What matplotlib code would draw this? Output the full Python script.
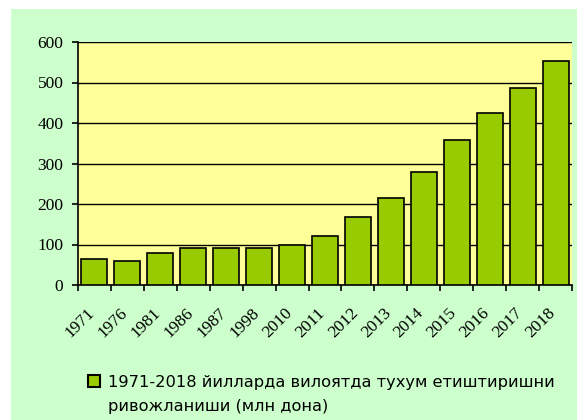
import matplotlib
matplotlib.use("Agg")
import matplotlib.pyplot as plt
from matplotlib.patches import Rectangle
from matplotlib.transforms import ScaledTranslation
import numpy as np

years = ["1971", "1976", "1981", "1986", "1987", "1998", "2010", "2011",
         "2012", "2013", "2014", "2015", "2016", "2017", "2018"]
values = [64, 59, 79, 91, 91, 91, 99, 122, 169, 216, 279, 357, 424, 487, 554]
legend_label = "1971-2018 йилларда вилоятда тухум етиштиришни\nривожланиши (млн дона)"
y_ticks = [0, 100, 200, 300, 400, 500, 600]

plt.rcParams["font.family"] = ["Liberation Serif", "DejaVu Serif"]

W, H = 577, 420
fig = plt.figure(figsize=(W / 100, H / 100), dpi=100)
fig.patch.set_facecolor("white")

# green background panel
fig.patches.append(Rectangle((11 / W, 0), 1 - 11 / W, 1 - 9 / H,
                             transform=fig.transFigure, facecolor="#CCFFCC",
                             edgecolor="none", zorder=-10))

ax = fig.add_axes([78 / W, 1 - 285 / H, (572 - 78) / W, (285 - 42) / H])
ax.set_facecolor("#FFFF99")

x = np.arange(len(years))
ax.bar(x, values, width=0.79, color="#99CC00", edgecolor="black",
       linewidth=1.2, zorder=3)

ax.set_xlim(-0.5, len(years) - 0.5)
ax.set_ylim(0, 600)
ax.set_yticks(y_ticks)
ax.yaxis.grid(True, color="black", linewidth=1.0, zorder=1)
ax.set_axisbelow(True)

for s in ["top", "right"]:
    ax.spines[s].set_visible(False)
for s in ["left", "bottom"]:
    ax.spines[s].set_color("black")
    ax.spines[s].set_linewidth(1.2)

ax.set_xticks(x)
ax.set_xticklabels(years, rotation=45, ha="right", va="top",
                   rotation_mode="anchor", fontsize=12.5)
ax.tick_params(axis="x", which="major", length=0, pad=0)
offset = ScaledTranslation(-8 / 100, -20 / 100, fig.dpi_scale_trans)
for lbl in ax.get_xticklabels():
    lbl.set_transform(lbl.get_transform() + offset)
ax.set_xticks(np.arange(-0.5, len(years), 1.0), minor=True)
ax.tick_params(axis="x", which="minor", length=4.5, width=1.2, direction="out",
               color="black")
ax.set_yticklabels([str(v) for v in y_ticks], fontsize=12.5)
ax.tick_params(axis="y", length=4.5, width=1.2, direction="out", pad=6,
               color="black")

# legend (manual, wrapped)
fig.patches.append(Rectangle((88 / W, 1 - 387 / H), 12 / W, 12 / H,
                             transform=fig.transFigure, facecolor="#99CC00",
                             edgecolor="black", linewidth=1.5, zorder=5))
lines = legend_label.split("\n")
baselines = [387, 411]
for line, b in zip(lines, baselines):
    fig.text(108 / W, 1 - b / H, line, fontsize=11.7,
             family=["DejaVu Sans"],
             va="baseline", ha="left", color="black")

fig.savefig("out.png", dpi=100, facecolor=fig.get_facecolor())
